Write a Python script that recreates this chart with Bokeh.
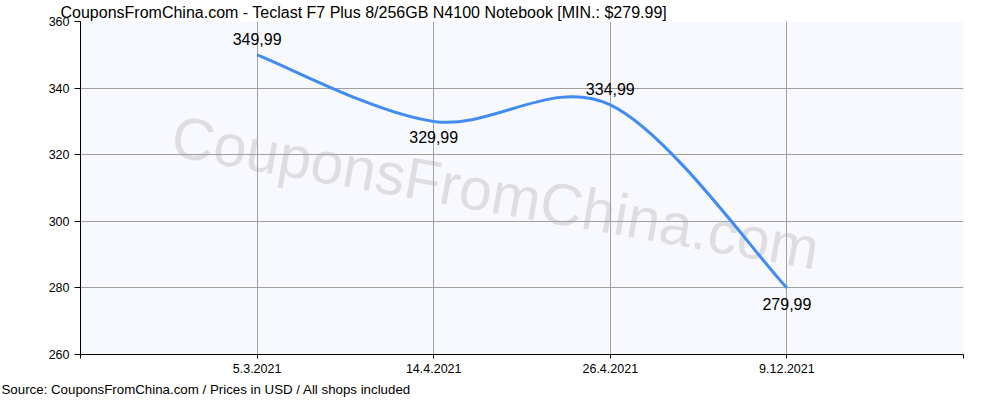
import numpy as np
from bokeh.plotting import figure
from bokeh.models import (ColumnDataSource, Label, Title, FixedTicker, Range1d)
from bokeh.core.properties import value
from bokeh.embed import file_html
from bokeh.resources import INLINE

# ---- data ----
dates = ["5.3.2021", "14.4.2021", "26.4.2021", "9.12.2021"]
prices = [349.99, 329.99, 334.99, 279.99]
price_labels = ["349,99", "329,99", "334,99", "279,99"]
y_ticks = [260, 280, 300, 320, 340, 360]

title_text = "CouponsFromChina.com - Teclast F7 Plus 8/256GB N4100 Notebook [MIN.: $279.99]"
footer_text = "Source: CouponsFromChina.com / Prices in USD / All shops included"
watermark_text = "CouponsFromChina.com"

FONT = "Liberation Sans"
LINE_COLOR = "#418CF0"
GRID_COLOR = "#A0A0A0"

n = len(dates)
xs = np.arange(1, n + 1, dtype=float)
ys = np.array(prices, dtype=float)

p = figure(width=984, height=400, output_backend="svg", toolbar_location=None,
           x_range=Range1d(0, n + 1), y_range=Range1d(y_ticks[0], y_ticks[-1]),
           min_border_left=80, min_border_right=21, min_border_top=0, min_border_bottom=0,
           background_fill_color="#F8F8FF", border_fill_color="white")
p.outline_line_color = None

# titles
t = Title(text=title_text, align="left", offset=-20, standoff=2,
          text_font=FONT, text_font_size="16px", text_font_style="normal", text_color="black")
p.add_layout(t, "above")
f = Title(text=footer_text, align="left", offset=-79, standoff=8,
          text_font=FONT, text_font_size="13.3px", text_font_style="normal", text_color="black")
p.add_layout(f, "below")

# axes
p.xaxis.ticker = FixedTicker(ticks=list(range(0, n + 2)))
p.xaxis.major_label_overrides = {0: "", n + 1: ""} | {i + 1: d for i, d in enumerate(dates)}
p.yaxis.ticker = FixedTicker(ticks=y_ticks)
for ax in (p.xaxis[0], p.yaxis[0]):
    ax.axis_line_color = "black"
    ax.major_tick_line_color = "black"
    ax.minor_tick_line_color = None
    ax.major_tick_in = 0
    ax.major_label_text_font = FONT
    ax.major_label_text_font_size = "12.5px"
    ax.major_label_text_color = "black"
    ax.major_label_standoff = 5
p.xaxis.major_tick_out = 4
p.yaxis.major_tick_out = 6

p.xgrid.ticker = FixedTicker(ticks=list(range(1, n + 2)))
p.ygrid.ticker = FixedTicker(ticks=y_ticks[1:])
for g in (p.xgrid[0], p.ygrid[0]):
    g.grid_line_color = GRID_COLOR
    g.grid_line_width = 1

# watermark (behind grid)
wm = Label(x=2.35, y=308.5, text=watermark_text, angle=-0.175, angle_units="rad",
           text_align="center", text_baseline="middle", text_font=FONT,
           text_font_size="59px", text_color="#DEDEE2", level="image")
p.add_layout(wm)

# cardinal (Catmull-Rom, tension 0.5) spline through points via bezier segments
prev_x = np.concatenate([[xs[0]], xs[:-1]])
prev_y = np.concatenate([[ys[0]], ys[:-1]])
next_x = np.concatenate([xs[1:], [xs[-1]]])
next_y = np.concatenate([ys[1:], [ys[-1]]])
tx = (next_x - prev_x) / 6.0
ty = (next_y - prev_y) / 6.0
seg = ColumnDataSource(dict(
    x0=xs[:-1], y0=ys[:-1], x1=xs[1:], y1=ys[1:],
    cx0=xs[:-1] + tx[:-1], cy0=ys[:-1] + ty[:-1],
    cx1=xs[1:] - tx[1:], cy1=ys[1:] - ty[1:]))
p.bezier(x0="x0", y0="y0", x1="x1", y1="y1", cx0="cx0", cy0="cy0", cx1="cx1", cy1="cy1",
         source=seg, line_color=LINE_COLOR, line_width=3)

# data labels: above local highs, below local lows
nb_mean = np.array([np.mean([ys[j] for j in (i - 1, i + 1) if 0 <= j < n]) for i in range(n)])
offs = np.where(ys >= nb_mean, -16, 16)
lab = ColumnDataSource(dict(x=xs, y=ys, text=price_labels, off=offs))
p.text(x="x", y="y", text="text", y_offset="off", source=lab,
       text_align="center", text_baseline="middle", text_font=value(FONT),
       text_font_size="16px", text_color="black")

open("out.html", "w").write(file_html(p, INLINE))
